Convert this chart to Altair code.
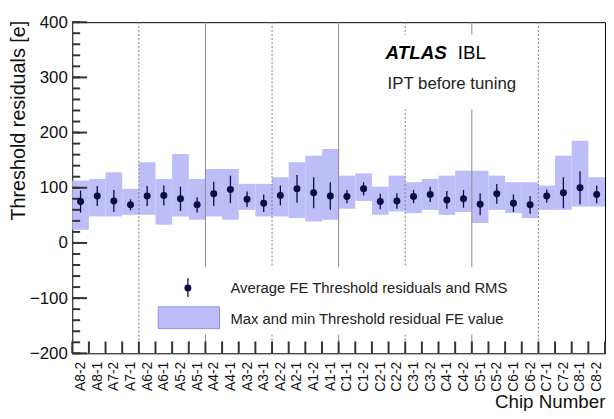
import altair as alt
import pandas as pd

chips = ["A8-2", "A8-1", "A7-2", "A7-1", "A6-2", "A6-1", "A5-2", "A5-1",
         "A4-2", "A4-1", "A3-2", "A3-1", "A2-2", "A2-1", "A1-2", "A1-1",
         "C1-1", "C1-2", "C2-1", "C2-2", "C3-1", "C3-2", "C4-1", "C4-2",
         "C5-1", "C5-2", "C6-1", "C6-2", "C7-1", "C7-2", "C8-1", "C8-2"]
avg_res = [75, 85, 76, 69, 85, 86, 80, 69, 89, 97, 79, 72, 86, 98, 91, 85,
           84, 98, 75, 76, 84, 88, 78, 80, 70, 89, 72, 69, 85, 91, 100, 88]
rms_res = [20, 18, 20, 10, 18, 18, 22, 14, 22, 25, 14, 16, 18, 25, 28, 25,
           12, 12, 14, 14, 12, 14, 16, 16, 20, 18, 16, 16, 12, 28, 30, 16]
fe_max = [113, 116, 128, 98, 146, 116, 161, 116, 134, 134, 107, 107, 119, 146, 158, 170,
          122, 126, 102, 122, 110, 116, 122, 131, 131, 122, 110, 110, 104, 158, 185, 119]
fe_min = [24, 48, 48, 51, 51, 33, 48, 42, 48, 42, 60, 48, 48, 45, 39, 42,
          62, 76, 51, 57, 54, 60, 51, 56, 36, 60, 54, 45, 60, 60, 66, 66]
sep_solid = [8, 16, 24]
sep_dotted = [4, 12, 20, 28]
y_major = [-200, -100, 0, 100, 200, 300, 400]
y_minor = list(range(-200, 401, 20))

n = len(chips)
df = pd.DataFrame({
    "pos": list(range(n)),
    "end": [i + 1 for i in range(n)],
    "mid": [i + 0.5 for i in range(n)],
    "chip": chips,
    "avg": avg_res,
    "lo": [a - r for a, r in zip(avg_res, rms_res)],
    "hi": [a + r for a, r in zip(avg_res, rms_res)],
    "mn": fe_min,
    "mx": fe_max,
})

W, H = 539, 335
FONT = "Liberation Sans"
BAND = "#bdbdf7"
NAVY = "#0b0b45"
INK = "#111111"
TICK = "#333333"

xs = alt.Scale(domain=[0, n], nice=False, zero=False)
ys = alt.Scale(domain=[-200, 400], nice=False, zero=False)

label_arr = "[" + ",".join("'" + c + "'" for c in chips) + "]"

x_axis = alt.Axis(
    values=list(range(n)),
    labelExpr=f"{label_arr}[datum.value]",
    labelOffset=W / n / 2, labelAngle=270, labelFontSize=14, labelPadding=8,
    labelOverlap=False, labelFlush=False, labelBound=False,
    ticks=False, tickSize=0, domain=False, grid=False,
    title="Chip Number", titleX=W, titleY=55, titleAlign="right",
    titleBaseline="alphabetic", titleFontSize=19, titleAnchor="end",
)
y_axis = alt.Axis(
    orient="left", values=y_major, ticks=False, tickSize=0, domain=False, grid=False,
    labelFontSize=17, labelPadding=5, format="d",
    title="Threshold residuals [e]", titleAngle=270, titleX=-48, titleY=-2,
    titleAlign="right", titleBaseline="alphabetic", titleFontSize=20,
)

base = alt.Chart(df)

bands = base.mark_rect(fill=BAND, strokeWidth=0).encode(
    x=alt.X("pos:Q", scale=xs, axis=x_axis),
    x2="end:Q",
    y=alt.Y("mn:Q", scale=ys, axis=y_axis),
    y2="mx:Q",
)

solid = alt.Chart(pd.DataFrame({"b": sep_solid})).mark_rule(
    color="#8a8a8a", strokeWidth=1).encode(
    x=alt.X("b:Q", scale=xs, axis=None))
dotted = alt.Chart(pd.DataFrame({"b": sep_dotted})).mark_rule(
    color="#7a7a7a", strokeWidth=1, strokeDash=[2, 2]).encode(
    x=alt.X("b:Q", scale=xs, axis=None))

# inward-pointing axis ticks (ROOT style)
yt_major = alt.Chart(pd.DataFrame({"ya": y_major})).mark_rule(
    color=TICK, strokeWidth=2).encode(
    y=alt.Y("ya:Q", scale=ys, axis=None), x=alt.value(0), x2=alt.value(15))
yt_minor = alt.Chart(pd.DataFrame({"yb": y_minor})).mark_rule(
    color=TICK, strokeWidth=2).encode(
    y=alt.Y("yb:Q", scale=ys, axis=None), x=alt.value(0), x2=alt.value(8))
xt = alt.Chart(pd.DataFrame({"xc": list(range(n + 1))})).mark_rule(
    color=TICK, strokeWidth=2).encode(
    x=alt.X("xc:Q", scale=xs, axis=None), y=alt.value(H - 12), y2=alt.value(H))

one = alt.Chart(pd.DataFrame({"k": [0]}))
cover_leg = one.mark_rect(fill="white").encode(
    x=alt.value(77), x2=alt.value(462), y=alt.value(248), y2=alt.value(316))
cover_atl = one.mark_rect(fill="white").encode(
    x=alt.value(287), x2=alt.value(462), y=alt.value(13), y2=alt.value(88))

errs = base.mark_rule(color=NAVY, strokeWidth=1.3).encode(
    x=alt.X("mid:Q", scale=xs, axis=None),
    y=alt.Y("lo:Q", scale=ys, axis=None),
    y2="hi:Q",
)
pts = base.mark_point(filled=True, shape="circle", size=50, color=NAVY, opacity=1).encode(
    x=alt.X("mid:Q", scale=xs, axis=None),
    y=alt.Y("avg:Q", scale=ys, axis=None),
)

leg_err = one.mark_rule(color=NAVY, strokeWidth=1.3).encode(
    x=alt.value(117), y=alt.value(259), y2=alt.value(278))
leg_pt = one.mark_point(filled=True, shape="circle", size=50, color=NAVY, opacity=1).encode(
    x=alt.value(117), y=alt.value(269))
leg_box = one.mark_rect(fill=BAND, stroke="#8f8fe0", strokeWidth=1).encode(
    x=alt.value(87), x2=alt.value(149), y=alt.value(288), y2=alt.value(310))
leg_t1 = one.mark_text(align="left", baseline="middle", font=FONT, fontSize=15,
                       color="#222", text="Average FE Threshold residuals and RMS").encode(
    x=alt.value(160), y=alt.value(269))
leg_t2 = one.mark_text(align="left", baseline="middle", font=FONT, fontSize=15,
                       color="#222", text="Max and min Threshold residual FE value").encode(
    x=alt.value(160), y=alt.value(300))

atlas = one.mark_text(align="left", baseline="alphabetic", font=FONT, fontSize=19,
                      fontWeight="bold", fontStyle="italic", color="black",
                      text="ATLAS").encode(x=alt.value(317), y=alt.value(37))
ibl = one.mark_text(align="left", baseline="alphabetic", font=FONT, fontSize=19,
                    color="black", text="IBL").encode(x=alt.value(390), y=alt.value(37))
ipt = one.mark_text(align="left", baseline="alphabetic", font=FONT, fontSize=17,
                    color="#222", text="IPT before tuning").encode(x=alt.value(319), y=alt.value(68))

chart = alt.layer(
    bands, solid, dotted, cover_leg, cover_atl, yt_major, yt_minor, xt,
    errs, pts, leg_err, leg_pt, leg_box, leg_t1, leg_t2, atlas, ibl, ipt,
).resolve_axis(x="independent", y="independent").properties(
    width=W, height=H,
    autosize=alt.AutoSizeParams(type="none"),
    padding={"left": 65, "top": 12, "right": 1, "bottom": 56},
).configure_view(stroke="black", strokeWidth=1).configure_axis(
    labelFont=FONT, titleFont=FONT, labelColor=INK, titleColor=INK,
    titleFontWeight="normal",
)

chart.save("out.html", embed_options={"renderer": "svg", "actions": False})
